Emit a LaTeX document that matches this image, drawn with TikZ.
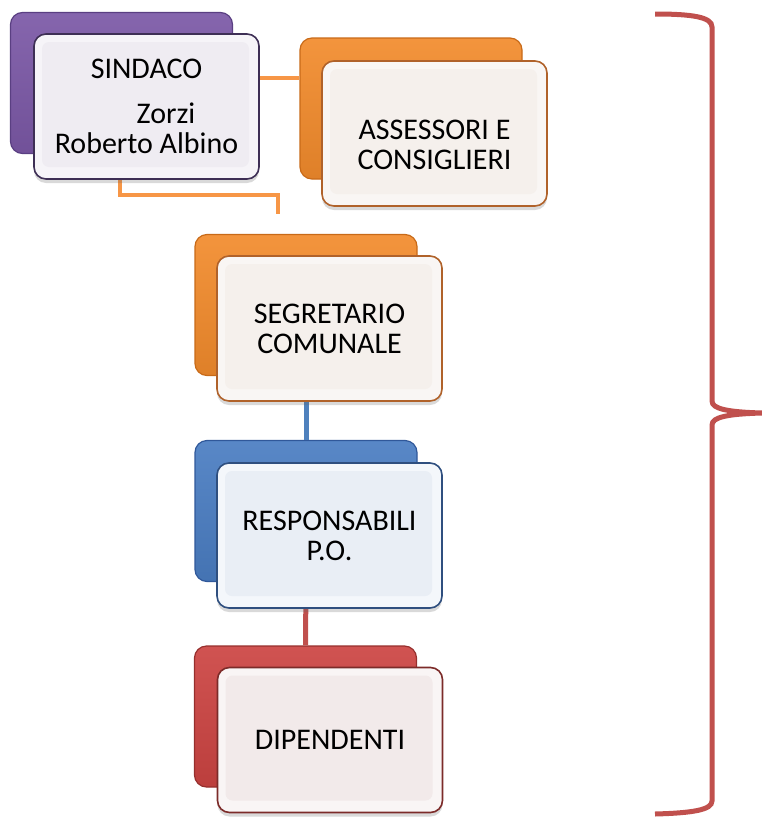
\documentclass[tikz,border=0pt]{standalone}
\usepackage{fontspec}
\setmainfont{Carlito}
\usetikzlibrary{shadows}
\definecolor{pBase}{HTML}{7B58A6}
\definecolor{pEdge}{HTML}{5A3F82}
\definecolor{pLine}{HTML}{3E2F55}
\definecolor{pOut}{HTML}{F6F4F8}
\definecolor{pIn}{HTML}{EFECF2}
\definecolor{oBase}{HTML}{F28B2C}
\definecolor{oEdge}{HTML}{C86A18}
\definecolor{oLine}{HTML}{B0622A}
\definecolor{oOut}{HTML}{F9F6F4}
\definecolor{oIn}{HTML}{F5F0EC}
\definecolor{bBase}{HTML}{4A7DC2}
\definecolor{bEdge}{HTML}{30589A}
\definecolor{bLine}{HTML}{2F4F7F}
\definecolor{bOut}{HTML}{F4F7FB}
\definecolor{bIn}{HTML}{E9EEF5}
\definecolor{rBase}{HTML}{CC4442}
\definecolor{rEdge}{HTML}{962F2D}
\definecolor{rLine}{HTML}{7C2B29}
\definecolor{rOut}{HTML}{F9F5F5}
\definecolor{rIn}{HTML}{F2EAEA}
\definecolor{cOrange}{HTML}{F79646}
\definecolor{cBlue}{HTML}{4F81BD}
\definecolor{cRed}{HTML}{C0504D}
\begin{document}
\begin{tikzpicture}[x=1pt,y=-1pt,
  backbox/.style n args={2}{rectangle, rounded corners=12pt, inner sep=0pt,
    minimum width=222pt, minimum height=141pt, top color=#1!92!white,
    middle color=#1, bottom color=#1!92!black,
    draw=#2, line width=1.2pt},
  frontbox/.style n args={3}{rectangle, rounded corners=12pt, inner sep=0pt,
    minimum width=225pt, minimum height=145pt, fill=#2, draw=#1, line width=1.6pt,
    align=center, font={\fontsize{30}{30}\selectfont},
    drop shadow={shadow xshift=0pt, shadow yshift=-4pt, opacity=0.25, fill=black!60},
    path picture={\fill[#3, rounded corners=7pt]
      ([xshift=8pt,yshift=-8pt]path picture bounding box.north west) rectangle
      ([xshift=-10pt,yshift=12pt]path picture bounding box.south east);}},
  orangeline/.style={draw=cOrange, line width=3.5pt},
  blueline/.style={draw=cBlue, line width=5pt},
  redline/.style={draw=cRed, line width=5pt},
  bracestyle/.style={draw=cRed, line width=5pt}
]
\useasboundingbox (0,0) rectangle (762,838);

\coordinate (c1) at (237,78);
\coordinate (c2) at (120,170);
\coordinate (c3) at (120,195);
\coordinate (c4) at (278,195);
\coordinate (c5) at (278,214);

% back layers
\node[backbox={pBase}{pEdge}] (sindB) at (121.5,83) {};
\node[backbox={oBase}{oEdge}] (assB) at (411,108.5) {};
\node[backbox={oBase}{oEdge}] (segB) at (306,305) {};
\node[backbox={bBase}{bEdge}] (resB) at (306,511) {};
\node[backbox={rBase}{rEdge}] (dipB) at (305.5,716.5) {};

% connectors
\draw[orangeline] (c1) -- (c1 -| assB.west);
\draw[orangeline] (c2) -- (c3) -- (c4) -- (c5);
\draw[blueline] (segB.south) -- (resB.north);
\draw[redline] (resB.south) -- (dipB.north);

% front layers
\node[frontbox={pLine}{pOut}{pIn}] (sind) at (146.5,106.5)
  {SINDACO\\[15pt]\hspace*{39pt}Zorzi\\Roberto Albino};
\node[frontbox={oLine}{oOut}{oIn}, text depth=0pt] (ass) at (434.5,133.5)
  {\raisebox{-4pt}{\parbox{220pt}{\centering ASSESSORI E\\CONSIGLIERI}}};
\node[frontbox={oLine}{oOut}{oIn}] (seg) at (329.5,328.5)
  {SEGRETARIO\\COMUNALE};
\node[frontbox={bLine}{bOut}{bIn}] (res) at (329.5,535.5)
  {RESPONSABILI\\P.O.};
\node[frontbox={rLine}{rOut}{rIn}] (dip) at (330,740)
  {DIPENDENTI};

% brace
\draw[bracestyle] (655,14) .. controls (692,14) and (712,17) .. (712,27)
  -- (712,401) .. controls (712,409) and (728,412) .. (762,413)
  .. controls (728,414) and (712,417) .. (712,425)
  -- (712,801) .. controls (712,810) and (692,813) .. (655,814);
\end{tikzpicture}
\end{document}
